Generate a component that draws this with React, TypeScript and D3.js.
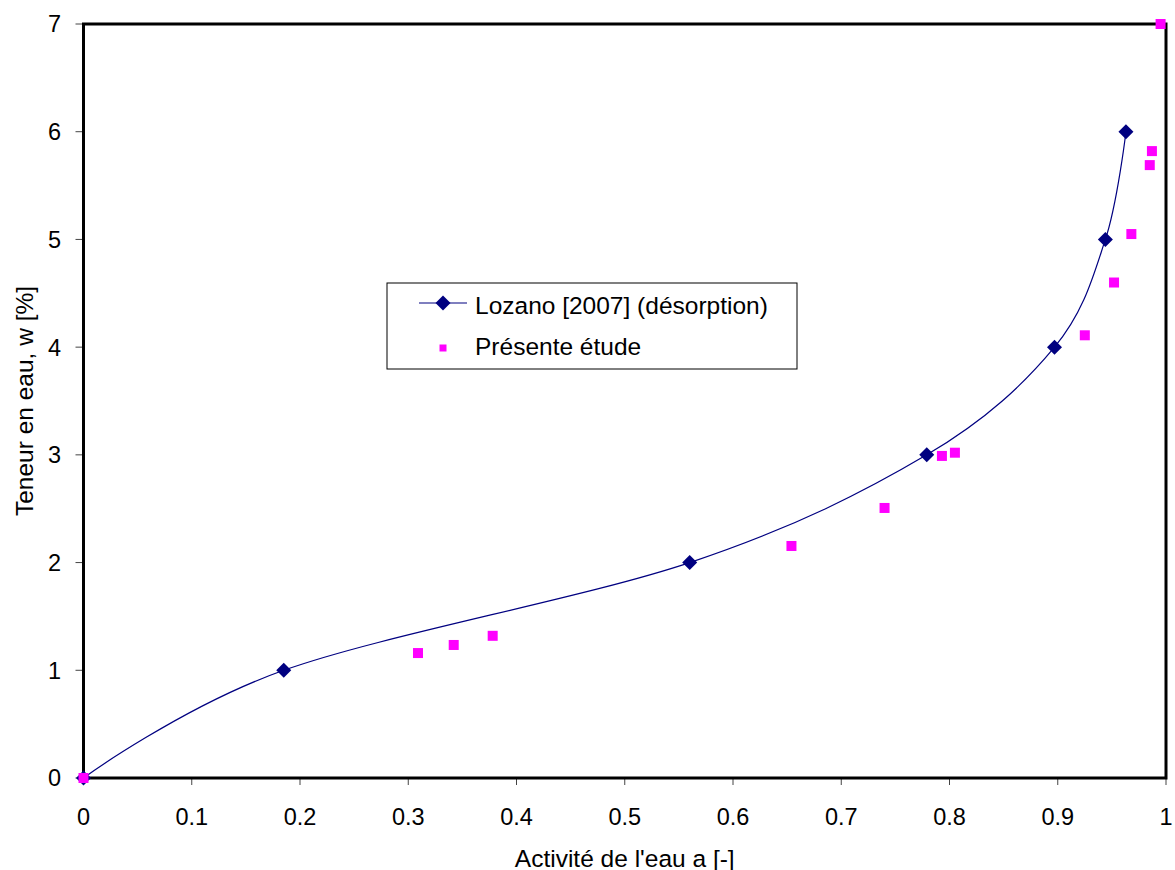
import React from "react";
import * as d3 from "d3";

const lozanoA = [0, 0.185, 0.56, 0.779, 0.897, 0.944, 0.963];
const lozanoW = [0, 1, 2, 3, 4, 5, 6];

const etudeA = [0, 0.309, 0.342, 0.378, 0.654, 0.74, 0.793, 0.805, 0.925, 0.952, 0.968, 0.985, 0.987, 0.995];
const etudeW = [0, 1.16, 1.235, 1.32, 2.154, 2.507, 2.99, 3.02, 4.11, 4.6, 5.05, 5.69, 5.82, 7.0];

const xTicks = [0, 0.1, 0.2, 0.3, 0.4, 0.5, 0.6, 0.7, 0.8, 0.9, 1];
const yTicks = [0, 1, 2, 3, 4, 5, 6, 7];

const legendLabels = ["Lozano [2007] (désorption)", "Présente étude"];
const xLabel = "Activité de l'eau a [-]";
const yLabel = "Teneur en eau, w [%]";

const W = 1175;
const H = 870;
const left = 83.5;
const right = 1166;
const top = 24;
const bottom = 778;

export default function App() {
  const x = d3.scaleLinear().domain([0, 1]).range([left, right]);
  const y = d3.scaleLinear().domain([0, 7]).range([bottom, top]);
  const lozano = lozanoA.map((a, i) => [a, lozanoW[i]] as [number, number]);
  const etude = etudeA.map((a, i) => [a, etudeW[i]] as [number, number]);
  const line = d3
    .line<[number, number]>()
    .x((d) => x(d[0]))
    .y((d) => y(d[1]))
    .curve(d3.curveCatmullRom.alpha(0));
  const font = "'Liberation Sans', Arial, sans-serif";
  const diamond = (cx: number, cy: number, r: number) =>
    `M${cx},${cy - r}L${cx + r},${cy}L${cx},${cy + r}L${cx - r},${cy}Z`;
  const sq = 10;
  return (
    <svg
      width={W}
      height={H}
      style={{ position: "absolute", left: 0, top: 0, background: "#fff" }}
      fontFamily={font}
    >
      {yTicks.map((t) => (
        <g key={"y" + t}>
          <line x1={left - 8} x2={left} y1={y(t)} y2={y(t)} stroke="#444" strokeWidth={1} />
          <text x={61} y={y(t)} dy="0.36em" textAnchor="end" fontSize={23.5} fill="#000">
            {t}
          </text>
        </g>
      ))}
      {xTicks.map((t) => (
        <g key={"x" + t}>
          <line x1={x(t)} x2={x(t)} y1={bottom} y2={bottom + 7} stroke="#444" strokeWidth={1} />
          <text x={x(t)} y={825} textAnchor="middle" fontSize={23.5} fill="#000">
            {t}
          </text>
        </g>
      ))}
      <rect x={left} y={top} width={right - left} height={bottom - top} fill="none" stroke="#000" strokeWidth={3} />
      <path d={line(lozano) || ""} fill="none" stroke="#000080" strokeWidth={1.2} />
      {lozano.map((d, i) => (
        <path key={"d" + i} d={diamond(x(d[0]), y(d[1]), 7.5)} fill="#000080" />
      ))}
      {etude.map((d, i) => (
        <rect key={"s" + i} x={x(d[0]) - sq / 2} y={y(d[1]) - sq / 2} width={sq} height={sq} fill="#ff00ff" />
      ))}
      <rect x={387} y={283} width={410} height={86} fill="#fff" stroke="#000" strokeWidth={1} />
      <line x1={419} x2={467} y1={303} y2={303} stroke="#000080" strokeWidth={1.2} />
      <path d={diamond(443, 303, 7.5)} fill="#000080" />
      <text x={475} y={314} fontSize={24.5} fill="#000">
        {legendLabels[0]}
      </text>
      <rect x={439.5} y={344.5} width={7} height={7} fill="#ff00ff" />
      <text x={475} y={355} fontSize={24.5} fill="#000">
        {legendLabels[1]}
      </text>
      <text x={(left + right) / 2} y={867} textAnchor="middle" fontSize={24.5} fill="#000">
        {xLabel}
      </text>
      <text
        transform={`translate(33, 401) rotate(-90)`}
        textAnchor="middle"
        fontSize={24.5}
        fill="#000"
      >
        {yLabel}
      </text>
    </svg>
  );
}
